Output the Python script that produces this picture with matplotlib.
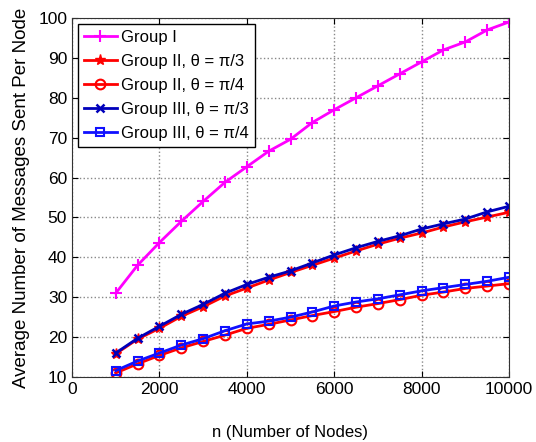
import numpy as np
import matplotlib
matplotlib.use("Agg")
import matplotlib.pyplot as plt

plt.rcParams['font.family'] = ['Liberation Sans', 'DejaVu Sans']

# number of nodes
n = [1000, 1500, 2000, 2500, 3000, 3500, 4000, 4500, 5000, 5500,
     6000, 6500, 7000, 7500, 8000, 8500, 9000, 9500, 10000]

group1 = [31, 38, 43.7, 49, 54, 58.8, 62.7, 66.6, 69.6, 73.8,
          77, 80, 83, 86, 89, 92, 94, 97, 99]
group2_pi3 = [15.8, 19.5, 22.2, 25.2, 27.6, 30.3, 32.3, 34.3, 36.2, 38,
              39.8, 41.6, 43.3, 44.8, 46.1, 47.6, 48.9, 50.1, 51.3]
group2_pi4 = [11, 13.3, 15.4, 17.3, 18.9, 20.5, 22.2, 23.2, 24.3, 25.4,
              26.4, 27.5, 28.4, 29.4, 30.5, 31.3, 32.2, 32.8, 33.4]
group3_pi3 = [16, 19.7, 22.7, 25.7, 28.2, 31, 33.2, 35, 36.6, 38.6,
              40.6, 42.4, 44, 45.4, 47.1, 48.4, 49.6, 51.4, 52.8]
group3_pi4 = [11.6, 14, 16, 18, 19.6, 21.6, 23.3, 24, 25, 26.3,
              27.8, 28.8, 29.6, 30.6, 31.6, 32.4, 33.2, 34, 35]

fig = plt.figure(figsize=(5.36, 4.42), dpi=100)
ax = fig.add_axes([72/536, 1 - 377/442, 437/536, 359/442])

ax.plot(n, group1, color='#ff00ff', marker='+', ms=8, mew=1.5, lw=2, label='Group I')
ax.plot(n, group2_pi3, color='red', marker='*', ms=8, lw=2, label='Group II, θ = π/3')
ax.plot(n, group2_pi4, color='red', marker='o', ms=7, mfc='none', mew=1.5, lw=2, label='Group II, θ = π/4')
ax.plot(n, group3_pi3, color='#0000bb', marker='x', ms=6, mew=1.8, lw=2, label='Group III, θ = π/3')
ax.plot(n, group3_pi4, color='#1010ff', marker='s', ms=6, mfc='none', mew=1.5, lw=2, label='Group III, θ = π/4')

ax.set_xlim(0, 10000)
ax.set_ylim(10, 100)
ax.set_xticks(np.arange(0, 10001, 2000))
ax.set_yticks(np.arange(10, 101, 10))
ax.tick_params(direction='in', labelsize=12.5, length=4, top=True, right=True)
ax.grid(True, linestyle=':', color='#888888', lw=1)
for s in ax.spines.values():
    s.set_color('#333333')

ax.set_xlabel('n (Number of Nodes)', fontsize=12, labelpad=20)
ax.set_ylabel('Average Number of Messages Sent Per Node', fontsize=13.5, labelpad=6)

leg = ax.legend(loc='upper left', fontsize=12, fancybox=False, framealpha=1,
                edgecolor='black', borderaxespad=0.35, handlelength=2.0,
                handletextpad=0.25, labelspacing=0.55, borderpad=0.35)
leg.get_frame().set_linewidth(1)

fig.savefig('out.png', dpi=100)
